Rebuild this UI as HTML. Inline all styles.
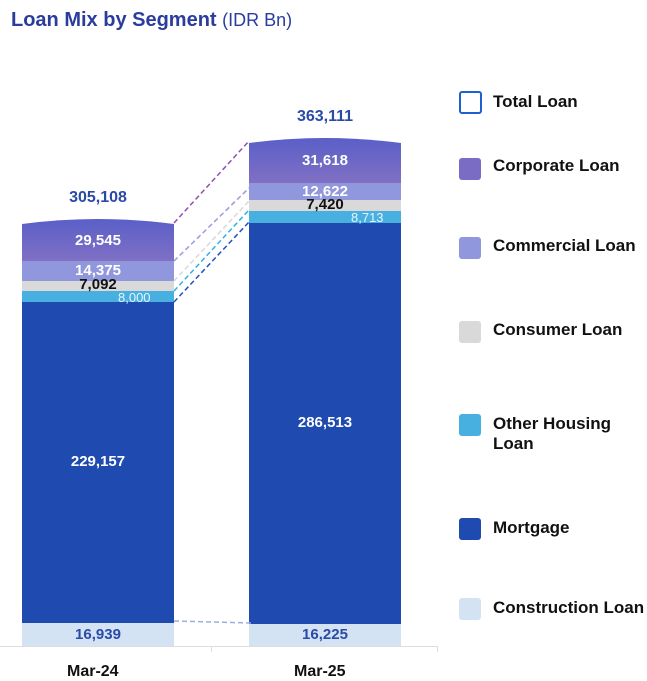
<!DOCTYPE html>
<html><head><meta charset="utf-8"><style>
body{margin:0;width:647px;height:677px;background:#fff;overflow:hidden;font-family:"Liberation Sans",sans-serif;position:relative}
.a{position:absolute}
.t{font-weight:bold;font-size:15px;text-align:center;width:152px}
.lg{position:absolute;left:493px;font-weight:bold;font-size:17px;color:#111;line-height:20px}
.ic{position:absolute;left:459px;width:22px;height:22px;border-radius:3px}
</style></head><body>
<div class="a" style="left:11px;top:9px;font-size:20px;font-weight:bold;color:#2a3d9e">Loan Mix by Segment <span style="font-weight:normal;font-size:18px">(IDR Bn)</span></div>

<svg class="a" style="left:0;top:0" width="647" height="677">
<defs><linearGradient id="g" x1="0" y1="0" x2="0" y2="1"><stop offset="0" stop-color="#5a5fc8"/><stop offset="1" stop-color="#8070c4"/></linearGradient></defs>
<path d="M22,224 Q98,214 174,224 L174,261 L22,261Z" fill="url(#g)"/>
<rect x="22" y="261" width="152" height="20" fill="#9097dc"/>
<rect x="22" y="281" width="152" height="10" fill="#d9d9d9"/>
<rect x="22" y="291" width="152" height="11" fill="#47b0e0"/>
<rect x="22" y="302" width="152" height="321" fill="#1f4bb0"/>
<rect x="22" y="623" width="152" height="23" fill="#d3e3f4"/>
<path d="M249,143 Q325,133 401,143 L401,183 L249,183Z" fill="url(#g)"/>
<rect x="249" y="183" width="152" height="17" fill="#9097dc"/>
<rect x="249" y="200" width="152" height="11" fill="#d9d9d9"/>
<rect x="249" y="211" width="152" height="12" fill="#47b0e0"/>
<rect x="249" y="223" width="152" height="401" fill="#1f4bb0"/>
<rect x="249" y="624" width="152" height="22" fill="#d3e3f4"/>
<g stroke-width="1.5" stroke-dasharray="5,3" fill="none">
<line x1="174" y1="223" x2="249" y2="141" stroke="#9050b0"/>
<line x1="174" y1="261" x2="249" y2="188" stroke="#9a9ae0"/>
<line x1="174" y1="281" x2="249" y2="201" stroke="#d8d8d8"/>
<line x1="174" y1="291" x2="249" y2="210" stroke="#30b0e8"/>
<line x1="174" y1="302" x2="249" y2="222" stroke="#2050c0"/>
<line x1="174" y1="621" x2="252" y2="623" stroke="#9aaee0"/>
</g>
<line x1="0" y1="646.5" x2="438" y2="646.5" stroke="#ddd"/>
<line x1="211.5" y1="646" x2="211.5" y2="652" stroke="#ddd"/>
<line x1="437.5" y1="646" x2="437.5" y2="652" stroke="#ddd"/>
</svg>

<div class="a t" style="left:22px;top:189px;color:#2a4aa8;font-size:16px">305,108</div>
<div class="a t" style="left:22px;top:232px;color:#fff">29,545</div>
<div class="a t" style="left:22px;top:262px;color:#fff">14,375</div>
<div class="a t" style="left:22px;top:276px;color:#111">7,092</div>
<div class="a" style="left:118px;top:290px;color:#e8f4fc;font-size:13px">8,000</div>
<div class="a t" style="left:22px;top:453px;color:#fff">229,157</div>
<div class="a t" style="left:22px;top:626px;color:#2a4aa8">16,939</div>

<div class="a t" style="left:249px;top:108px;color:#2a4aa8;font-size:16px">363,111</div>
<div class="a t" style="left:249px;top:152px;color:#fff">31,618</div>
<div class="a t" style="left:249px;top:183px;color:#fff">12,622</div>
<div class="a t" style="left:249px;top:196px;color:#111">7,420</div>
<div class="a" style="left:351px;top:210px;color:#e8f4fc;font-size:13px">8,713</div>
<div class="a t" style="left:249px;top:414px;color:#fff">286,513</div>
<div class="a t" style="left:249px;top:626px;color:#2a4aa8">16,225</div>

<div class="a" style="left:67px;top:663px;font-weight:bold;font-size:16px;color:#111">Mar-24</div>
<div class="a" style="left:294px;top:663px;font-weight:bold;font-size:16px;color:#111">Mar-25</div>

<div class="ic" style="top:91px;border:2px solid #1f5fd0;width:19px;height:19px"></div>
<div class="lg" style="top:92px">Total Loan</div>
<div class="ic" style="top:158px;background:#7a6cc4"></div>
<div class="lg" style="top:156px">Corporate Loan</div>
<div class="ic" style="top:237px;background:#9097dc"></div>
<div class="lg" style="top:236px">Commercial Loan</div>
<div class="ic" style="top:321px;background:#d9d9d9"></div>
<div class="lg" style="top:320px">Consumer Loan</div>
<div class="ic" style="top:414px;background:#47b0e0"></div>
<div class="lg" style="top:414px">Other Housing<br>Loan</div>
<div class="ic" style="top:518px;background:#1f4bb0"></div>
<div class="lg" style="top:518px">Mortgage</div>
<div class="ic" style="top:598px;background:#d3e3f4"></div>
<div class="lg" style="top:598px">Construction Loan</div>
</body></html>
